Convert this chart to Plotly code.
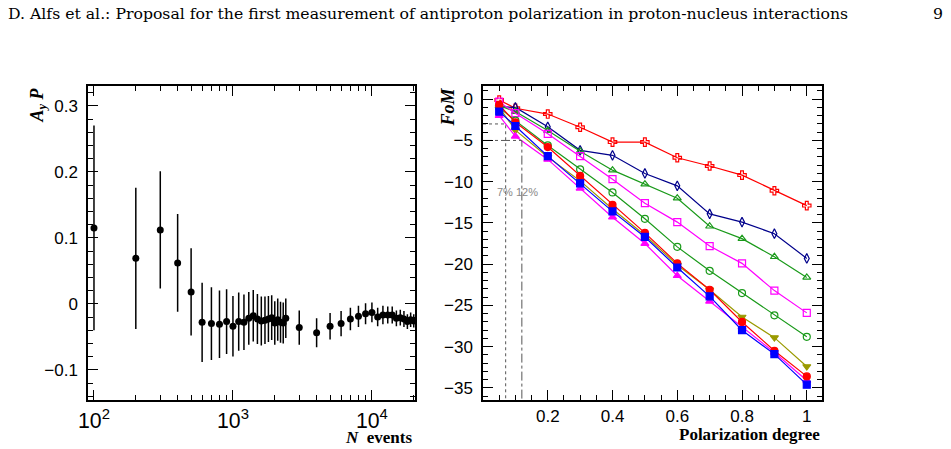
import plotly.graph_objects as go

# ---- left panel data ----
n_events = [100, 200, 300, 400, 500, 600, 700, 800, 900, 1000, 1100, 1200, 1300, 1400,
            1500, 1600, 1700, 1800, 1900, 2000, 2100, 2200, 2300, 2400, 3000, 4000, 5000,
            6000, 7000, 8000, 9000, 10000, 11000, 12000, 13000, 14000, 15000, 16000,
            17000, 18000, 19000, 20000]
ayp = [0.115, 0.069, 0.112, 0.062, 0.018, -0.028, -0.030, -0.031, -0.027, -0.034, -0.027,
       -0.028, -0.022, -0.018, -0.023, -0.026, -0.025, -0.023, -0.021, -0.029, -0.024,
       -0.028, -0.029, -0.022, -0.036, -0.044, -0.034, -0.030, -0.023, -0.019, -0.015,
       -0.013, -0.020, -0.017, -0.017, -0.017, -0.022, -0.021, -0.023, -0.027, -0.024,
       -0.026]
ayp_err = [0.155, 0.107, 0.089, 0.074, 0.066, 0.060, 0.055, 0.051, 0.049, 0.046, 0.044,
           0.042, 0.040, 0.039, 0.038, 0.037, 0.036, 0.035, 0.034, 0.033, 0.032, 0.031,
           0.031, 0.030, 0.026, 0.022, 0.020, 0.019, 0.017, 0.016, 0.016, 0.015, 0.014,
           0.014, 0.013, 0.013, 0.012, 0.012, 0.012, 0.011, 0.011, 0.010]

# ---- right panel data ----
pol = [0.05, 0.1, 0.2, 0.3, 0.4, 0.5, 0.6, 0.7, 0.8, 0.9, 1.0]
fom_red_cross = [-0.1, -1.1, -1.8, -3.4, -5.2, -5.2, -7.1, -8.1, -9.2, -11.1, -12.9]
fom_navy_diamond = [-0.9, -1.0, -3.35, -6.2, -6.8, -9.0, -10.5, -13.9, -14.9, -16.3, -19.3]
fom_green_triangle = [-0.8, -1.5, -3.8, -6.3, -8.6, -10.3, -12.0, -15.4, -16.9, -19.1, -21.6]
fom_magenta_square = [-0.3, -1.7, -4.2, -6.9, -9.7, -12.6, -14.9, -17.8, -19.9, -23.2, -25.9]
fom_green_circle = [-1.0, -2.6, -5.6, -8.5, -11.3, -14.5, -17.9, -20.8, -23.5, -26.2, -28.8]
fom_red_filled = [-0.7, -2.8, -5.8, -9.3, -12.8, -16.2, -19.9, -23.1, -27.0, -30.5, -33.6]
fom_olive_down = [-1.0, -3.75, -7.0, -9.9, -13.3, -16.5, -20.1, -23.1, -26.4, -28.9, -32.4]
fom_blue_square = [-1.5, -3.25, -6.9, -10.2, -13.6, -16.7, -20.4, -23.9, -28.0, -30.9, -34.6]
fom_magenta_tri = [-2.0, -4.5, -7.3, -10.8, -14.3, -17.5, -21.4, -24.5, -27.6, -30.7, -34.1]

pol_ticks = [0.2, 0.4, 0.6, 0.8, 1.0]
pol_ticktext = ["0.2", "0.4", "0.6", "0.8", "1"]

series = [
    (fom_red_cross, "#ff0000", "cross-open"),
    (fom_navy_diamond, "#00008b", "diamond-tall-open"),
    (fom_green_triangle, "#1a9a1a", "triangle-up-open"),
    (fom_magenta_square, "#ff00ff", "square-open"),
    (fom_green_circle, "#1a9a1a", "circle-open"),
    (fom_olive_down, "#9a9a00", "triangle-down"),
    (fom_magenta_tri, "#ff00ff", "triangle-up"),
    (fom_red_filled, "#ff0000", "circle"),
    (fom_blue_square, "#0000ff", "square"),
]

H = 449.0
W = 951.0
ytop = 1 - 86 / H
ybot = 1 - 399.5 / H

fig = go.Figure()

fig.add_trace(go.Scatter(
    x=n_events, y=ayp, mode="markers",
    marker=dict(color="black", size=7),
    error_y=dict(type="data", array=ayp_err, color="black", thickness=1.5, width=0),
    xaxis="x", yaxis="y", showlegend=False))

for vals, col, sym in series:
    fig.add_trace(go.Scatter(
        x=pol, y=vals, mode="lines+markers",
        line=dict(color=col, width=1.2),
        marker=dict(symbol=sym, color=col, size=7, line=dict(color=col, width=1.2)),
        xaxis="x2", yaxis="y2", showlegend=False))

# reference lines
gray = "#555555"
fig.add_trace(go.Scatter(x=[0, 0.07, 0.07], y=[-3, -3, -36.4], mode="lines",
                         line=dict(color=gray, width=1, dash="dot"),
                         xaxis="x2", yaxis="y2", showlegend=False, hoverinfo="skip"))
fig.add_trace(go.Scatter(x=[0, 0.12, 0.12], y=[-5, -5, -36.4], mode="lines",
                         line=dict(color=gray, width=1, dash="dashdot"),
                         xaxis="x2", yaxis="y2", showlegend=False, hoverinfo="skip"))

tickfont = dict(family="Liberation Sans, Arial, sans-serif", size=17, color="black")
axcommon = dict(showline=True, linecolor="black", linewidth=1.5, mirror="ticks",
                ticks="inside", tickcolor="black", tickwidth=1, showgrid=False,
                zeroline=False, tickfont=tickfont, automargin=False)

fig.update_layout(
    width=951, height=449, margin=dict(l=0, r=0, t=0, b=0, autoexpand=False),
    paper_bgcolor="white", plot_bgcolor="white",
    xaxis=dict(type="log", domain=[88 / W, 415 / W], range=[1.957, 4.31],
               dtick=1, exponentformat="power", ticklen=10, ticklabelstandoff=2,
               minor=dict(ticks="inside", ticklen=5, tickcolor="black", dtick="D1"),
               anchor="y", **axcommon),
    yaxis=dict(domain=[ybot, ytop], range=[-0.145, 0.33], dtick=0.1, ticklen=10,
               tickformat="~g", ticklabelstandoff=5,
               minor=dict(ticks="inside", ticklen=5, tickcolor="black", dtick=0.02),
               anchor="x", **axcommon),
    xaxis2=dict(domain=[483 / W, 822 / W], range=[0, 1.047], tickmode="array",
                tickvals=pol_ticks, ticktext=pol_ticktext, ticklen=10,
                minor=dict(ticks="inside", ticklen=5, tickcolor="black",
                           tickmode="linear", tick0=0, dtick=0.05),
                anchor="y2", **axcommon),
    yaxis2=dict(domain=[ybot, ytop], range=[-36.4, 1.6], dtick=5, ticklen=10,
                ticklabelstandoff=5,
                minor=dict(ticks="inside", ticklen=5, tickcolor="black", dtick=1),
                anchor="x2", **axcommon),
)

serif = "Liberation Serif, Times New Roman, serif"
hdr = "'DejaVu Serif', 'Liberation Serif', serif"
ann = [
    dict(text="D. Alfs et al.: Proposal for the first measurement of antiproton polarization in proton-nucleus interactions",
         x=6 / W, y=1 - 13 / H, xanchor="left", yanchor="middle",
         font=dict(family=hdr, size=15.7, color="black")),
    dict(text="9", x=938 / W, y=1 - 13 / H, xanchor="center", yanchor="middle",
         font=dict(family=hdr, size=15.7, color="black")),
    dict(text="<b><i>A<sub>y</sub> P</i></b>", x=38 / W, y=1 - 86 / H, textangle=-90,
         xanchor="center", yanchor="top", font=dict(family=serif, size=18, color="black")),
    dict(text="<b><i>N</i>  events</b>", x=414 / W, y=1 - 437 / H, xanchor="right",
         yanchor="middle", font=dict(family=serif, size=17, color="black")),
    dict(text="<b><i>FoM</i></b>", x=447 / W, y=1 - 86 / H, textangle=-90,
         xanchor="center", yanchor="top", font=dict(family=serif, size=18, color="black")),
    dict(text="<b>Polarization degree</b>", x=822 / W, y=1 - 434 / H, xanchor="right",
         yanchor="middle", font=dict(family=serif, size=17, color="black")),
    dict(text="7% 12%", x=0.037, y=-11.3, xref="x2", yref="y2", xanchor="left",
         yanchor="middle", font=dict(family="Liberation Sans, Arial, sans-serif", size=11, color="#888888")),
]
for a in ann:
    a.setdefault("xref", "paper")
    a.setdefault("yref", "paper")
    a["showarrow"] = False
fig.update_layout(annotations=ann)

fig.write_html("out.html")
